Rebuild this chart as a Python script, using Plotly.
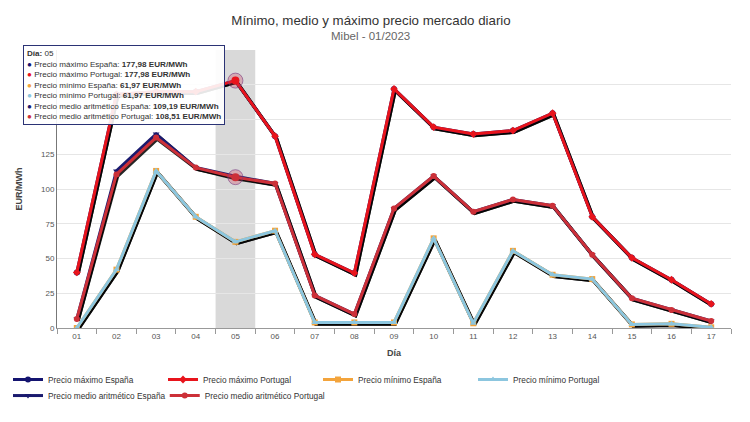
import plotly.graph_objects as go

days = ["01", "02", "03", "04", "05", "06", "07", "08", "09", "10", "11", "12", "13", "14", "15", "16", "17"]
max_es = [40, 168, 170, 170, 177.98, 138, 53, 39.5, 172, 144.5, 139.5, 142, 154.5, 80, 50.5, 34.7, 17.3]
max_pt = [40, 168, 170, 170, 177.98, 138, 53, 39.5, 172, 144.5, 139.5, 142, 154.5, 80, 50.5, 34.7, 17.3]
min_es = [0, 42, 113, 80, 61.97, 70, 4, 4, 4, 64.5, 3.4, 55.5, 38.3, 35.2, 2.6, 3, 0.5]
min_pt = [0, 42, 113, 80, 61.97, 70, 4, 4, 4, 64.5, 3.4, 55.5, 38.3, 35.2, 2.6, 3, 0.5]
med_es = [6.5, 113, 139.5, 115.4, 109.19, 104, 23.4, 10, 86, 109.3, 83.6, 92.5, 88, 52.7, 21.4, 13, 5]
med_pt = [6.5, 110.5, 137, 115.4, 108.51, 104, 23.4, 10, 86, 109.3, 83.6, 92.5, 88, 52.7, 21.4, 13, 5]

# y ticks; labels of 150-200 are hidden behind the tooltip in the reference
y_tick_vals = [0, 25, 50, 75, 100, 125, 150, 175, 200]
y_tick_text = ["0", "25", "50", "75", "100", "125", "", "", ""]

names = ["Precio máximo España", "Precio máximo Portugal", "Precio mínimo España",
         "Precio mínimo Portugal", "Precio medio aritmético España", "Precio medio aritmético Portugal"]
colors = ["#141470", "#e8141c", "#f3a43c", "#8cc6df", "#1a1a6e", "#cc3038"]
symbols = ["circle", "diamond", "square", "triangle-up", "triangle-down", "circle"]
series = [max_es, max_pt, min_es, min_pt, med_es, med_pt]
legend_ids = ["legend", "legend", "legend", "legend", "legend2", "legend3"]
hover_idx = 4

fig = go.Figure()

# shadows on base (hidden, offset) axes
for s in series:
    fig.add_trace(go.Scatter(x=days, y=s, mode="lines", xaxis="x", yaxis="y",
                             line=dict(color="rgba(0,0,0,0.85)", width=3.5),
                             showlegend=False, hoverinfo="skip"))

# coloured series on visible overlay axes
for n, c, sym, s, lg in zip(names, colors, symbols, series, legend_ids):
    fig.add_trace(go.Scatter(x=days, y=s, mode="lines+markers", name=n, xaxis="x2", yaxis="y2",
                             legend=lg, line=dict(color=c, width=3),
                             marker=dict(symbol=sym, size=6, color=c)))

# hover halos
for s, c in [(max_pt, "#e8141c"), (med_pt, "#cc3038")]:
    fig.add_trace(go.Scatter(x=[days[hover_idx]], y=[s[hover_idx]], mode="markers", xaxis="x2", yaxis="y2",
                             marker=dict(size=15, color="rgba(210,60,90,0.3)",
                                         line=dict(color="rgba(120,60,130,0.6)", width=1)),
                             showlegend=False, hoverinfo="skip"))
    fig.add_trace(go.Scatter(x=[days[hover_idx]], y=[s[hover_idx]], mode="markers", xaxis="x2", yaxis="y2",
                             marker=dict(size=8, color=c, symbol="circle"),
                             showlegend=False, hoverinfo="skip"))

fig.add_shape(type="rect", xref="x2", yref="paper", x0=hover_idx - 0.5, x1=hover_idx + 0.5,
              y0=0, y1=1, fillcolor="#d9d9d9", line=dict(width=0), layer="below")

def fmt(v):
    return ("%.2f" % v).replace(".", ",")

lines = ["<b>Día:</b> " + days[hover_idx]]
for n, c, s in zip(names, colors, series):
    lines.append('<span style="color:%s">●</span> %s: <b>%s EUR/MWh</b>' % (c, n, fmt(s[hover_idx])))
tooltip = "<br>".join(lines)

fig.add_annotation(x=-0.0506, y=1.018, xref="paper", yref="paper", xanchor="left", yanchor="top",
                   text=tooltip, showarrow=False, align="left",
                   font=dict(size=8.1, color="#333333", family="Liberation Sans, Arial"),
                   bgcolor="rgba(255,255,255,0.9)", bordercolor="#2b3375", borderwidth=1, borderpad=3)

fig.add_annotation(x=0.465, y=1.051, xref="paper", yref="paper", xanchor="center", yanchor="middle",
                   text="Mibel - 01/2023", showarrow=False,
                   font=dict(size=11.5, color="#666666", family="Liberation Sans, Arial"))

px_per_cat = 674 / 17
units_per_px = 200 / 278
dx = 1.2 / px_per_cat
dy = 1.5 * units_per_px

legend_common = dict(orientation="h", xref="container", yref="container", x=0.0,
                     xanchor="left", yanchor="top", entrywidth=110, entrywidthmode="pixels",
                     tracegroupgap=0, font=dict(size=8.3, color="#333333"),
                     bgcolor="rgba(0,0,0,0)")
legend_row2 = dict(orientation="h", xref="container", yref="container", y=0.116,
                   xanchor="left", yanchor="top", tracegroupgap=0,
                   font=dict(size=8.3, color="#333333"), bgcolor="rgba(0,0,0,0)")

fig.update_layout(
    width=750, height=422,
    margin=dict(l=49, r=27, t=42, b=102),
    paper_bgcolor="white", plot_bgcolor="white",
    font=dict(family="Liberation Sans, Arial", color="#333333"),
    title=dict(text="Mínimo, medio y máximo precio mercado diario", x=0.484, xanchor="center",
               y=0.971, yanchor="middle", font=dict(size=13.3, color="#333333")),
    xaxis=dict(type="category", categoryorder="array", categoryarray=days,
               range=[-0.5 - dx, 16.5 - dx], visible=False, automargin=False),
    yaxis=dict(range=[dy, 200 + dy], visible=False, automargin=False),
    xaxis2=dict(type="category", categoryorder="array", categoryarray=days, range=[-0.5, 16.5],
                overlaying="x", automargin=False,
                showline=True, linecolor="#999999", linewidth=1, ticks="outside", tickson="boundaries",
                ticklen=5, tickcolor="#999999", showgrid=False,
                tickfont=dict(size=8, color="#555555"),
                title=dict(text="<b>Día</b>", font=dict(size=9, color="#444444"), standoff=10)),
    yaxis2=dict(range=[0, 200], tickmode="array", tickvals=y_tick_vals, ticktext=y_tick_text,
                gridcolor="#e6e6e6", showline=True, linecolor="#777777",
                overlaying="y", automargin=False, side="left",
                linewidth=1, zeroline=False, tickfont=dict(size=8, color="#555555"),
                title=dict(text="<b>EUR/MWh</b>", font=dict(size=9, color="#444444"), standoff=16)),
    legend=dict(legend_common, y=0.154),
    legend2=dict(legend_row2, x=0.0),
    legend3=dict(legend_row2, x=0.209),
    showlegend=True,
)

fig.write_html("out.html")
